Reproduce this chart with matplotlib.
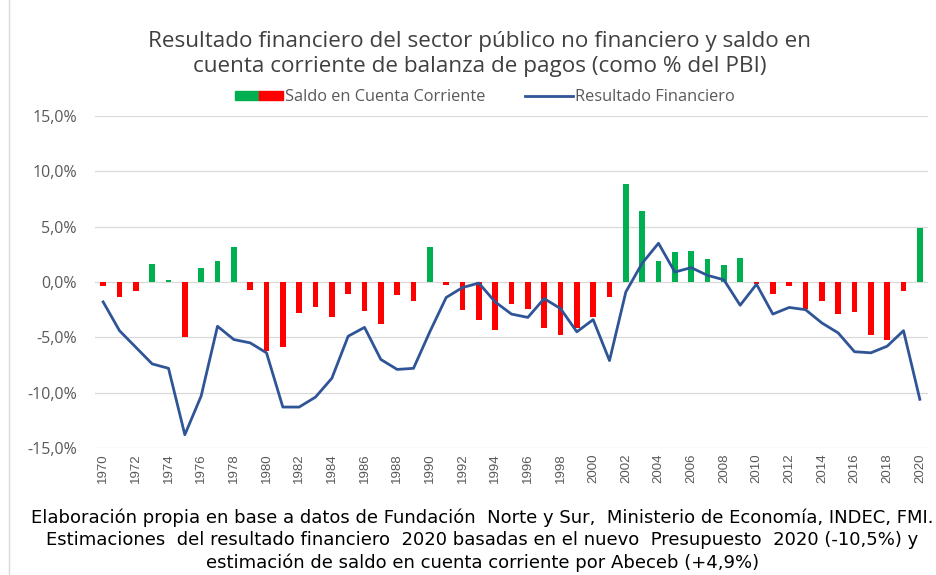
import numpy as np
import matplotlib.pyplot as plt
from matplotlib.patches import Patch
from matplotlib.lines import Line2D
from matplotlib.legend_handler import HandlerTuple
from matplotlib.ticker import FuncFormatter

years = list(range(1970, 2021))

# saldo en cuenta corriente (% PBI)
cuenta_corriente = [-0.4, -1.4, -0.8, 1.6, 0.2, -5.0, 1.3, 1.9, 3.2, -0.7,
                    -6.2, -5.9, -2.8, -2.3, -3.2, -1.1, -2.6, -3.8, -1.2, -1.7,
                    3.2, -0.3, -2.5, -3.4, -4.3, -2.0, -2.4, -4.2, -4.8, -4.2,
                    -3.2, -1.4, 8.9, 6.4, 1.9, 2.7, 2.8, 2.1, 1.5, 2.2,
                    -0.2, -1.1, -0.4, -2.4, -1.7, -2.9, -2.7, -4.8, -5.2, -0.8,
                    4.9]

# resultado financiero (% PBI)
resultado = [-1.8, -4.4, -5.9, -7.4, -7.8, -13.8, -10.3, -4.0, -5.2, -5.5,
             -6.4, -11.3, -11.3, -10.4, -8.7, -4.9, -4.1, -7.0, -7.9, -7.8,
             -4.5, -1.4, -0.5, -0.1, -1.8, -2.9, -3.2, -1.5, -2.4, -4.5,
             -3.4, -7.1, -0.9, 1.7, 3.5, 0.9, 1.3, 0.6, 0.2, -2.1,
             -0.2, -2.9, -2.3, -2.5, -3.7, -4.6, -6.3, -6.4, -5.8, -4.4,
             -10.6]

titulo = ("Resultado financiero del sector público no financiero y saldo en\n"
          "cuenta corriente de balanza de pagos (como % del PBI)")
nota = ("Elaboración propia en base a datos de Fundación  Norte y Sur,  Ministerio de Economía, INDEC, FMI.\n"
        "Estimaciones  del resultado financiero  2020 basadas en el nuevo  Presupuesto  2020 (-10,5%) y\n"
        "estimación de saldo en cuenta corriente por Abeceb (+4,9%)")

verde = '#00B050'
rojo = '#FF0000'
azul = '#2F5597'
gris = '#595959'

plt.rcParams['font.family'] = ['Open Sans', 'DejaVu Sans']

fig = plt.figure(figsize=(9.37, 5.75), dpi=100)
ax = fig.add_axes([95 / 937, 1 - 448 / 575, 833 / 937, 332 / 575])

x = np.arange(len(years))
colores = [verde if v >= 0 else rojo for v in cuenta_corriente]
ax.bar(x, cuenta_corriente, width=0.33, color=colores, zorder=2)
ax.plot(x, resultado, color=azul, lw=2.0, zorder=3)

ax.set_xlim(-0.5, len(years) - 0.5)
ax.set_ylim(-15, 15)
ax.set_yticks(np.arange(-15, 16, 5))
ax.yaxis.set_major_formatter(FuncFormatter(lambda v, p: f"{v:.1f}%".replace('.', ',')))
ax.grid(axis='y', color='#D9D9D9', lw=0.9, zorder=0)
ax.set_axisbelow(True)
for s in ax.spines.values():
    s.set_visible(False)
ax.tick_params(axis='y', length=0, labelsize=11.5, labelcolor=gris, pad=13)

ax.set_xticks(x[::2])
ax.set_xticklabels([str(y) for y in years[::2]], rotation=90, fontsize=9.5,
                   color=gris, family='Liberation Sans')
ax.tick_params(axis='x', length=0, pad=4)

# borde izquierdo del area del grafico
fig.add_artist(Line2D([9 / 937, 9 / 937], [0, 1], color='#D9D9D9', lw=1.0))

fig.text(0.512, 1 - 54 / 575, titulo, ha='center', va='center', fontsize=16.2,
         color='#404040', linespacing=1.25)

handles = [(Patch(color=verde), Patch(color=rojo)),
           Line2D([], [], color=azul, lw=2.0)]
fig.legend(handles, ['Saldo en Cuenta Corriente', 'Resultado Financiero'],
           handler_map={tuple: HandlerTuple(ndivide=None, pad=0)},
           loc='center', bbox_to_anchor=(485 / 937, 1 - 97 / 575), ncol=2,
           frameon=False, fontsize=11.8, labelcolor=gris, handlelength=2.9,
           handleheight=0.45, handletextpad=0.15, columnspacing=2.4)

fig.text(0.515, 1 - 540 / 575, nota, ha='center', va='center', fontsize=13,
         color='black', linespacing=1.3,
         family=['Liberation Sans Narrow', 'DejaVu Sans'])

fig.savefig('out.png', dpi=100)
